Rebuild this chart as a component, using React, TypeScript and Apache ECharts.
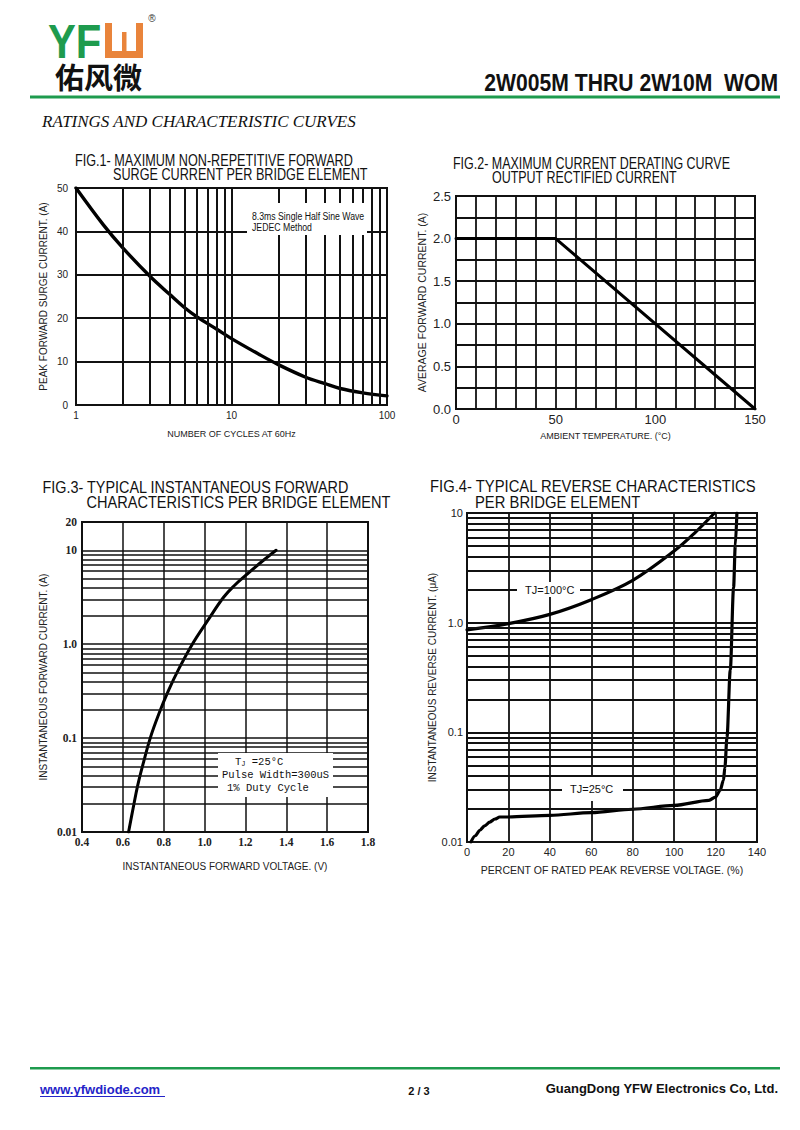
import React, { useEffect, useRef } from "react";
import * as echarts from "echarts";

// ---------- Fig.1 : surge current vs cycles ----------
const fig1Cycles = [1, 1.5, 2, 3, 4, 5, 6, 8, 10, 15, 20, 30, 40, 50, 70, 100];
const fig1Surge = [50, 41.5, 36.2, 29.6, 25.5, 22.4, 20.3, 17.5, 15.3, 11.7, 9.3, 6.4, 4.9, 3.8, 2.8, 2.1];
const fig1MinorX = [2, 3, 4, 5, 6, 7, 8, 9, 20, 30, 40, 50, 60, 70, 80, 90];

// ---------- Fig.2 : derating ----------
const fig2Temp = [0, 50, 150];
const fig2Current = [2.0, 2.0, 0.0];

// ---------- Fig.3 : forward characteristics ----------
const fig3Voltage = [0.628, 0.65, 0.673, 0.702, 0.734, 0.775, 0.822, 0.877, 0.94, 1.015, 1.093, 1.146, 1.21, 1.278, 1.35];
const fig3Current = [0.01, 0.0178, 0.0316, 0.0562, 0.1, 0.178, 0.316, 0.562, 1.0, 1.78, 3.16, 4.22, 5.62, 7.5, 10];
const fig3MinorY = [0.02, 0.03, 0.04, 0.05, 0.06, 0.07, 0.08, 0.09, 0.2, 0.3, 0.4, 0.5, 0.6, 0.7, 0.8, 0.9, 2, 3, 4, 5, 6, 7, 8, 9];

// ---------- Fig.4 : reverse characteristics ----------
const fig4Percent100 = [0, 20, 40, 60, 80, 100, 110, 119.5];
const fig4Current100 = [0.86, 0.98, 1.19, 1.62, 2.43, 4.5, 6.6, 10];
const fig4Percent25 = [1.9, 4, 6.2, 8.5, 11, 13.5, 15.8, 20, 40, 60, 80, 100, 116.8, 120, 122.2, 123.8, 124.5, 125.5, 127.1, 128.7, 129.5, 130.3];
const fig4Current25 = [0.01, 0.0114, 0.0128, 0.014, 0.0152, 0.0162, 0.0169, 0.0169, 0.0175, 0.0185, 0.0199, 0.0216, 0.024, 0.0257, 0.0296, 0.0365, 0.048, 0.09, 0.37, 2.1, 5.0, 10];
const fig4MinorY = [0.02, 0.03, 0.04, 0.05, 0.06, 0.07, 0.08, 0.09, 0.2, 0.3, 0.4, 0.5, 0.6, 0.7, 0.8, 0.9, 2, 3, 4, 5, 6, 7, 8, 9];

const SANS = '"Liberation Sans", Arial, Helvetica, sans-serif';
const SERIF = '"Liberation Serif", "Times New Roman", serif';
const MONO = '"Liberation Mono", "Courier New", monospace';
const CJK = '"Noto Sans CJK SC", "Noto Sans CJK TC", sans-serif';
const INK = "#111";
const GREEN = "#1e9b4e";
const ORANGE = "#e9843b";

const zip = (xs: number[], ys: number[]) => xs.map((x, i) => [x, ys[i]]);

const minorMark = (vals: number[], axis: "xAxis" | "yAxis", width: number) => ({
  silent: true,
  symbol: ["none", "none"],
  label: { show: false },
  emphasis: { disabled: true },
  lineStyle: { color: INK, width, type: "solid" },
  data: vals.map((v) => ({ [axis]: v })),
});

const logLabel = (v: number) => {
  const r = Number(v.toPrecision(6));
  if (r === 1) return "1.0";
  return String(r);
};

function text(x: number, y: number, t: string, o: any = {}) {
  return {
    type: "text",
    x,
    y,
    z: 101,
    scaleX: o.scaleX ?? 1,
    rotation: o.rotation ?? 0,
    style: {
      text: t,
      fontSize: o.size ?? 12,
      fontFamily: o.family ?? SANS,
      fontWeight: o.weight ?? "normal",
      fontStyle: o.style ?? "normal",
      fill: o.fill ?? INK,
      textAlign: o.align ?? "left",
      textVerticalAlign: "middle",
      rich: o.rich,
    },
  };
}

function rect(x: number, y: number, w: number, h: number, fill = "#fff") {
  return { type: "rect", z: 100, shape: { x, y, width: w, height: h }, style: { fill } };
}

const gridBase = {
  show: true,
  borderColor: INK,
  borderWidth: 2,
  backgroundColor: "transparent",
  containLabel: false,
  outerBoundsMode: "none",
};

const axisCommon = {
  axisLine: { show: false },
  axisTick: { show: false },
  showMinLabel: true,
  showMaxLabel: true,
};

const curve = (width: number) => ({ color: "#000", width, cap: "round", join: "round" });

const option: any = {
  animation: false,
  backgroundColor: "#fff",
  textStyle: { fontFamily: SANS },
  grid: [
    { ...gridBase, left: 76, top: 188, width: 311, height: 217 },
    { ...gridBase, left: 456, top: 196, width: 299, height: 213 },
    { ...gridBase, left: 82, top: 522, width: 286, height: 310 },
    { ...gridBase, left: 467, top: 513, width: 290, height: 329 },
  ],
  xAxis: [
    {
      ...axisCommon,
      type: "log",
      logBase: 10,
      gridIndex: 0,
      min: 1,
      max: 100,
      axisLabel: { fontSize: 10, color: "#222", margin: 5, fontFamily: SANS },
      splitLine: { show: true, lineStyle: { color: INK, width: 2 } },
      name: "NUMBER OF CYCLES AT 60Hz",
      nameLocation: "middle",
      nameGap: 24,
      nameTextStyle: { fontSize: 9, color: "#222", fontFamily: SANS },
    },
    {
      ...axisCommon,
      type: "value",
      gridIndex: 1,
      min: 0,
      max: 150,
      interval: 10,
      axisLabel: {
        fontSize: 13,
        color: "#222",
        margin: 4,
        fontFamily: SANS,
        formatter: (v: number) => (v % 50 === 0 ? String(v) : ""),
      },
      splitLine: { show: true, lineStyle: { color: INK, width: 1.8 } },
      name: "AMBIENT TEMPERATURE. (°C)",
      nameLocation: "middle",
      nameGap: 22,
      nameTextStyle: { fontSize: 9, color: "#222", fontFamily: SANS },
    },
    {
      ...axisCommon,
      type: "value",
      gridIndex: 2,
      min: 0.4,
      max: 1.8,
      interval: 0.2,
      axisLabel: {
        fontSize: 11.5,
        color: "#222",
        margin: 4,
        fontFamily: SERIF,
        fontWeight: "bold",
        formatter: (v: number) => v.toFixed(1),
      },
      splitLine: { show: true, lineStyle: { color: INK, width: 1.5 } },
      name: "INSTANTANEOUS FORWARD VOLTAGE. (V)",
      nameLocation: "middle",
      nameGap: 29,
      nameTextStyle: { fontSize: 10, color: "#222", fontFamily: SANS },
    },
    {
      ...axisCommon,
      type: "value",
      gridIndex: 3,
      min: 0,
      max: 140,
      interval: 20,
      axisLabel: { fontSize: 11, color: "#222", margin: 4, fontFamily: SANS },
      splitLine: { show: true, lineStyle: { color: INK, width: 1.8 } },
      name: "PERCENT OF RATED PEAK REVERSE VOLTAGE. (%)",
      nameLocation: "middle",
      nameGap: 22,
      nameTextStyle: { fontSize: 10.5, color: "#222", fontFamily: SANS },
    },
  ],
  yAxis: [
    {
      ...axisCommon,
      type: "value",
      gridIndex: 0,
      min: 0,
      max: 50,
      interval: 10,
      axisLabel: { fontSize: 10, color: "#222", margin: 8, fontFamily: SANS },
      splitLine: { show: true, lineStyle: { color: INK, width: 2 } },
      name: "PEAK FORWARD SURGE CURRENT. (A)",
      nameLocation: "middle",
      nameGap: 28,
      nameTextStyle: { fontSize: 10, color: "#222", fontFamily: SANS },
    },
    {
      ...axisCommon,
      type: "value",
      gridIndex: 1,
      min: 0,
      max: 2.5,
      interval: 0.25,
      axisLabel: {
        fontSize: 13,
        color: "#222",
        margin: 5,
        fontFamily: SANS,
        formatter: (v: number) => (Math.abs(v * 2 - Math.round(v * 2)) < 1e-6 ? v.toFixed(1) : ""),
      },
      splitLine: { show: true, lineStyle: { color: INK, width: 1.8 } },
      name: "AVERAGE FORWARD CURRENT. (A)",
      nameLocation: "middle",
      nameGap: 29,
      nameTextStyle: { fontSize: 10.5, color: "#222", fontFamily: SANS },
    },
    {
      ...axisCommon,
      type: "log",
      logBase: 10,
      gridIndex: 2,
      min: 0.01,
      max: 20,
      axisLabel: {
        fontSize: 11.5,
        color: "#222",
        margin: 5,
        fontFamily: SERIF,
        fontWeight: "bold",
        formatter: logLabel,
      },
      splitLine: { show: true, lineStyle: { color: INK, width: 1.5 } },
      name: "INSTANTANEOUS FORWARD CURRENT. (A)",
      nameLocation: "middle",
      nameGap: 34,
      nameTextStyle: { fontSize: 10, color: "#222", fontFamily: SANS },
    },
    {
      ...axisCommon,
      type: "log",
      logBase: 10,
      gridIndex: 3,
      min: 0.01,
      max: 10,
      axisLabel: { fontSize: 11, color: "#222", margin: 4, fontFamily: SANS, formatter: logLabel },
      splitLine: { show: true, lineStyle: { color: INK, width: 1.8 } },
      name: "INSTANTANEOUS REVERSE CURRENT. (μA)",
      nameLocation: "middle",
      nameGap: 30,
      nameTextStyle: { fontSize: 10, color: "#222", fontFamily: SANS },
    },
  ],
  series: [
    {
      type: "line",
      xAxisIndex: 0,
      yAxisIndex: 0,
      data: zip(fig1Cycles, fig1Surge),
      smooth: 0.35,
      symbol: "none",
      lineStyle: curve(3.4),
      markLine: minorMark(fig1MinorX, "xAxis", 2),
    },
    {
      type: "line",
      xAxisIndex: 1,
      yAxisIndex: 1,
      data: zip(fig2Temp, fig2Current),
      symbol: "none",
      lineStyle: curve(3),
    },
    {
      type: "line",
      xAxisIndex: 2,
      yAxisIndex: 2,
      data: zip(fig3Voltage, fig3Current),
      smooth: 0.4,
      symbol: "none",
      lineStyle: curve(3),
      markLine: minorMark(fig3MinorY, "yAxis", 1.5),
    },
    {
      type: "line",
      xAxisIndex: 3,
      yAxisIndex: 3,
      data: zip(fig4Percent100, fig4Current100),
      smooth: 0.35,
      symbol: "none",
      lineStyle: curve(3.2),
      markLine: minorMark(fig4MinorY, "yAxis", 1.8),
    },
    {
      type: "line",
      xAxisIndex: 3,
      yAxisIndex: 3,
      data: zip(fig4Percent25, fig4Current25),
      smooth: 0.3,
      smoothMonotone: "x",
      symbol: "none",
      lineStyle: curve(3.2),
    },
  ],
  graphic: [
    // ---- header ----
    text(48, 41, "YF", { size: 48, weight: "bold", fill: GREEN, scaleX: 0.87 }),
    rect(105, 23, 38, 35, ORANGE),
    rect(112, 21, 24, 30, "#fff"),
    rect(122, 32, 4.5, 19, ORANGE),
    text(152, 18, "®", { size: 10, fill: "#333", align: "center" }),
    text(55, 76, "佑风微", { size: 29, weight: "bold", family: CJK, fill: "#111" }),
    text(778, 83.5, "2W005M THRU 2W10M  WOM", { size: 23, weight: "bold", align: "right", scaleX: 0.92 }),
    rect(30, 95.5, 750, 3, GREEN),
    text(42, 121, "RATINGS AND CHARACTERISTIC CURVES", { size: 17, family: SERIF, style: "italic" }),

    // ---- figure titles ----
    text(75, 160.5, "FIG.1- MAXIMUM NON-REPETITIVE FORWARD", { size: 16, scaleX: 0.79 }),
    text(113, 174.5, "SURGE CURRENT PER BRIDGE ELEMENT", { size: 16, scaleX: 0.79 }),
    text(453, 163, "FIG.2- MAXIMUM CURRENT DERATING CURVE", { size: 16, scaleX: 0.78 }),
    text(492, 177, "OUTPUT RECTIFIED CURRENT", { size: 16, scaleX: 0.78 }),
    text(42.5, 487, "FIG.3- TYPICAL INSTANTANEOUS FORWARD", { size: 16, scaleX: 0.9 }),
    text(86.5, 502, "CHARACTERISTICS PER BRIDGE ELEMENT", { size: 16, scaleX: 0.91 }),
    text(430, 486, "FIG.4- TYPICAL REVERSE CHARACTERISTICS", { size: 16, scaleX: 0.925 }),
    text(475, 502, "PER BRIDGE ELEMENT", { size: 16, scaleX: 0.925 }),

    // ---- annotation boxes ----
    rect(247, 203, 120, 32),
    text(252, 216.7, "8.3ms Single Half Sine Wave", { size: 10, scaleX: 0.87 }),
    text(252, 227.3, "JEDEC Method", { size: 10, scaleX: 0.87 }),

    rect(218, 753, 115, 44),
    text(235, 762, "{a|T}{s|J}{a| =25°C}", {
      size: 10.5,
      family: MONO,
      rich: {
        a: { fontSize: 10.5, fontFamily: MONO, fill: INK },
        s: { fontSize: 7, fontFamily: MONO, fill: INK, padding: [4, 0, 0, 0] },
      },
    }),
    text(222, 775, "Pulse Width=300uS", { size: 10.5, family: MONO }),
    text(227, 788, "1% Duty Cycle", { size: 10.5, family: MONO }),

    rect(517, 582, 63, 15),
    text(525, 589.5, "TJ=100°C", { size: 11 }),
    rect(562, 777, 61, 24),
    text(570, 789, "TJ=25°C", { size: 11 }),

    // ---- footer ----
    rect(30, 1067, 750, 2.5, GREEN),
    text(40, 1089, "www.yfwdiode.com", { size: 13, weight: "bold", fill: "#2424c8" }),
    { type: "line", z: 101, shape: { x1: 40, y1: 1096.5, x2: 165, y2: 1096.5 }, style: { stroke: "#2424c8", lineWidth: 1 } },
    text(419, 1091, "2 / 3", { size: 11, weight: "bold", align: "center" }),
    text(778, 1088, "GuangDong YFW Electronics Co, Ltd.", { size: 13, weight: "bold", align: "right" }),
  ],
};

export default function App() {
  const ref = useRef<HTMLDivElement>(null);
  useEffect(() => {
    document.body.style.margin = "0";
    const chart = echarts.init(ref.current!, null, { renderer: "svg", width: 800, height: 1130 });
    chart.setOption(option);
    return () => chart.dispose();
  }, []);
  return <div ref={ref} style={{ width: 800, height: 1130, background: "#fff" }} />;
}
